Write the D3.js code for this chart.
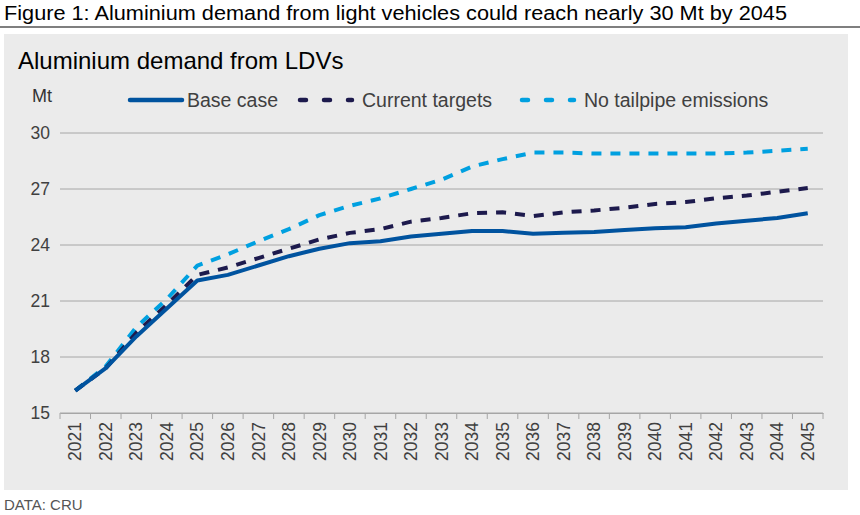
<!DOCTYPE html>
<html lang="en">
<head>
<meta charset="UTF-8">
<title>Aluminium demand from LDVs</title>
<style>
  body { margin: 0; background: #fff; font-family: "Liberation Sans", Arial, sans-serif; }
  .tick text { font-size: 17.5px; fill: #404040; font-family: "Liberation Sans", Arial, sans-serif; }
</style>
</head>
<body>
<svg width="860" height="515"></svg>
<script src="https://d3js.org/d3.v7.min.js"></script>
<script>
const years = d3.range(2021, 2046).map(String);
const baseCase = [16.2, 17.4, 19.1, 20.6, 22.1, 22.4, 22.9, 23.4, 23.8, 24.1, 24.2, 24.45, 24.6, 24.75, 24.75, 24.6, 24.65, 24.7, 24.8, 24.9, 24.95, 25.15, 25.3, 25.45, 25.7];
const currentTargets = [16.2, 17.4, 19.3, 20.8, 22.4, 22.8, 23.3, 23.8, 24.3, 24.65, 24.85, 25.25, 25.45, 25.7, 25.75, 25.55, 25.75, 25.85, 26.0, 26.2, 26.3, 26.5, 26.65, 26.85, 27.05];
const noTailpipe = [16.2, 17.5, 19.6, 21.1, 22.9, 23.5, 24.2, 24.85, 25.6, 26.1, 26.5, 27.0, 27.5, 28.2, 28.6, 28.95, 28.95, 28.9, 28.9, 28.9, 28.9, 28.9, 28.95, 29.05, 29.15];
const yTicks = [15, 18, 21, 24, 27, 30];

const series = [
  {name: "Base case", values: baseCase, color: "#00539f", dash: null},
  {name: "Current targets", values: currentTargets, color: "#1d1a4d", dash: "10,9"},
  {name: "No tailpipe emissions", values: noTailpipe, color: "#00a0e0", dash: "10,9"}
];

const svg = d3.select("svg");

svg.append("text").attr("x", 4).attr("y", 20).attr("font-size", 20).attr("fill", "#000")
  .attr("textLength", 783).attr("lengthAdjust", "spacingAndGlyphs")
  .text("Figure 1: Aluminium demand from light vehicles could reach nearly 30 Mt by 2045");
svg.append("line").attr("x1", 0).attr("x2", 860).attr("y1", 27).attr("y2", 27).attr("stroke", "#000").attr("stroke-width", 1.2);
svg.append("rect").attr("x", 4).attr("y", 34).attr("width", 844).attr("height", 456).attr("fill", "#ebebeb");

svg.append("text").attr("x", 18).attr("y", 69).attr("font-size", 24).attr("fill", "#000").text("Aluminium demand from LDVs");
svg.append("text").attr("x", 32).attr("y", 102).attr("font-size", 18).attr("fill", "#333").text("Mt");

const margin = {left: 60, right: 37, top: 133, bottom: 102};
const x = d3.scaleBand().domain(years).range([margin.left, 860 - margin.right]);
const y = d3.scaleLinear().domain([15, 30]).range([515 - margin.bottom, margin.top]);

// gridlines
svg.append("g").selectAll("line").data(yTicks).join("line")
  .attr("x1", margin.left).attr("x2", 860 - margin.right)
  .attr("y1", d => y(d)).attr("y2", d => y(d))
  .attr("stroke", "#a6a6a6").attr("stroke-width", 1);

const yAxis = svg.append("g").attr("transform", `translate(${margin.left},0)`)
  .call(d3.axisLeft(y).tickValues(yTicks).tickSize(0).tickPadding(10));
yAxis.select(".domain").remove();

const xAxis = svg.append("g").attr("transform", `translate(0,${y(15)})`)
  .call(d3.axisBottom(x).tickSize(6).tickSizeOuter(0));
xAxis.select(".domain").attr("stroke", "#a6a6a6");
xAxis.selectAll(".tick line").attr("stroke", "#a6a6a6").attr("transform", `translate(${-x.bandwidth() / 2},0)`);
xAxis.append("line").attr("x1", 860 - margin.right).attr("x2", 860 - margin.right).attr("y1", 0).attr("y2", 6).attr("stroke", "#a6a6a6");
xAxis.selectAll(".tick text")
  .attr("transform", "rotate(-90)").attr("x", -9).attr("y", 0).attr("dy", "0.35em")
  .style("text-anchor", "end");

const line = d3.line().x((d, i) => x(years[i]) + x.bandwidth() / 2).y(d => y(d));
svg.append("g").selectAll("path").data(series.slice().reverse()).join("path")
  .attr("d", d => line(d.values))
  .attr("fill", "none").attr("stroke", d => d.color).attr("stroke-width", 4)
  .attr("stroke-dasharray", d => d.dash)
  .attr("stroke-linejoin", "round");

// legend
const legendX = [128, 298, 520];
const lg = svg.append("g").selectAll("g").data(series).join("g")
  .attr("transform", (d, i) => `translate(${legendX[i]},100)`);
lg.append("line").attr("x1", 2).attr("x2", 54).attr("y1", 0).attr("y2", 0)
  .attr("stroke", d => d.color).attr("stroke-width", 4.5)
  .attr("stroke-dasharray", d => d.dash ? "6,18" : null).attr("stroke-linecap", "round");
lg.append("text").attr("x", d => d.dash ? 64 : 59).attr("y", 7).attr("font-size", 19.5).attr("fill", "#404040").text(d => d.name);

svg.append("text").attr("x", 4).attr("y", 510).attr("font-size", 15).attr("fill", "#555").text("DATA: CRU");
</script>
</body>
</html>
